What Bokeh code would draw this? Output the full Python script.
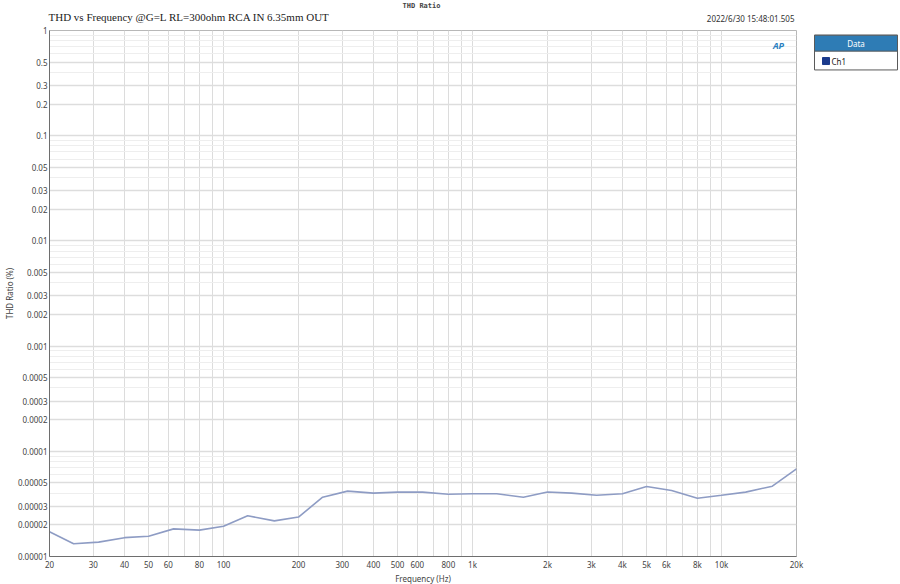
from bokeh.plotting import figure
from bokeh.layouts import row, column
from bokeh.models import FixedTicker, CustomJSTickFormatter, Label, Range1d
from bokeh.core.properties import value
from bokeh.embed import file_html
from bokeh.resources import INLINE

# ---- data ----
freqs = [20, 25, 31.5, 40, 50, 63, 80, 100, 125, 160, 200, 250, 315, 400, 500, 630,
         800, 1000, 1250, 1600, 2000, 2500, 3150, 4000, 5000, 6300, 8000, 10000,
         12500, 16000, 20000]
thd_ch1 = [1.72e-5, 1.32e-5, 1.37e-5, 1.51e-5, 1.56e-5, 1.83e-5, 1.78e-5, 1.94e-5,
           2.44e-5, 2.18e-5, 2.37e-5, 3.66e-5, 4.18e-5, 4.00e-5, 4.09e-5, 4.09e-5,
           3.90e-5, 3.95e-5, 3.95e-5, 3.66e-5, 4.10e-5, 4.00e-5, 3.82e-5, 3.95e-5,
           4.62e-5, 4.24e-5, 3.58e-5, 3.82e-5, 4.09e-5, 4.66e-5, 6.82e-5]

x_ticks = [20, 30, 40, 50, 60, 80, 100, 200, 300, 400, 500, 600, 800,
           1000, 2000, 3000, 4000, 5000, 6000, 8000, 10000, 20000]
x_minor = [70, 90, 700, 900, 7000, 9000]
y_ticks = [1e-5, 2e-5, 3e-5, 5e-5, 1e-4, 2e-4, 3e-4, 5e-4, 1e-3, 2e-3, 3e-3, 5e-3,
           1e-2, 2e-2, 3e-2, 5e-2, 0.1, 0.2, 0.3, 0.5, 1.0]
y_minor = [m * 10.0 ** e for e in range(-5, 0) for m in (4, 6, 7, 8, 9)]

title_text = "THD vs Frequency @G=L RL=300ohm RCA IN 6.35mm OUT"
top_text = "THD Ratio"
stamp_text = "2022/6/30 15:48:01.505"
x_label = "Frequency (Hz)"
y_label = "THD Ratio (%)"
legend_title = "Data"
series_name = "Ch1"

FONT = "Noto Sans"
HEAD_H = 26

# ---- header strip (title, caption, timestamp) ----
hd = figure(width=900, height=HEAD_H, x_range=Range1d(0, 900), y_range=Range1d(HEAD_H, 0),
            x_axis_type=None, y_axis_type=None, min_border=0,
            output_backend="svg", toolbar_location=None)
hd.outline_line_color = None
hd.xgrid.visible = False
hd.ygrid.visible = False
hd.text(x=[48], y=[16], text=[title_text], text_font=value("Liberation Serif"),
        text_font_size="11px", text_color="#222222", text_align="left",
        text_baseline="middle")
hd.text(x=[421], y=[5], text=[top_text], text_font=value("DejaVu Sans Mono"),
        text_font_size="7px", text_font_style="bold", text_color="#444444",
        text_align="center", text_baseline="middle")
hd.text(x=[794], y=[18], text=[stamp_text], text_font=value(FONT),
        text_font_size="8px", text_color="#333333", text_align="right",
        text_baseline="middle")

# ---- main chart ----
p = figure(x_axis_type="log", y_axis_type="log", title=None,
           frame_width=747, frame_height=526,
           min_border_left=48, min_border_right=10, min_border_top=4, min_border_bottom=28,
           x_range=Range1d(20, 20000), y_range=Range1d(1e-5, 1),
           output_backend="svg", toolbar_location=None)
p.outline_line_color = "#b8b8b8"
p.background_fill_color = "white"
p.border_fill_color = "white"

for ax in (p.xaxis, p.yaxis):
    ax.axis_line_color = "#6e6e6e"
    ax.major_tick_in = 0
    ax.major_tick_out = 0
    ax.minor_tick_in = 0
    ax.minor_tick_out = 0
    ax.major_label_text_font = FONT
    ax.major_label_text_font_size = "8px"
    ax.major_label_text_color = "#444444"
    ax.major_label_standoff = 2
    ax.axis_label_text_font = FONT
    ax.axis_label_text_font_size = "8px"
    ax.axis_label_text_font_style = "normal"
    ax.axis_label_text_color = "#444444"
    ax.axis_label_standoff = 0

p.xaxis.axis_label = x_label
p.yaxis.axis_label = y_label

p.xaxis.ticker = FixedTicker(ticks=x_ticks, minor_ticks=x_minor)
p.yaxis.ticker = FixedTicker(ticks=y_ticks, minor_ticks=y_minor)
p.xaxis.formatter = CustomJSTickFormatter(
    code="return tick >= 1000 ? String(Math.round(tick/1000)) + 'k' : String(Math.round(tick));")
p.yaxis.formatter = CustomJSTickFormatter(
    code="return String(Number(tick.toPrecision(6)));")

p.xgrid.grid_line_color = "#dcdcdc"
p.xgrid.grid_line_width = 1
p.xgrid.minor_grid_line_color = "#dcdcdc"
p.xgrid.minor_grid_line_width = 1
p.ygrid.grid_line_color = "#dddddd"
p.ygrid.grid_line_width = 1.5
p.ygrid.minor_grid_line_color = "#eeeeee"
p.ygrid.minor_grid_line_width = 1

p.line(freqs, thd_ch1, line_color="#8e9cc4", line_width=1.6)

p.add_layout(Label(x=729, y=511, x_units="screen", y_units="screen", text="AP",
                   text_font=FONT, text_font_size="9px", text_font_style="bold italic",
                   text_color="#2a7fc0", text_baseline="middle", text_align="center"))

# ---- legend panel ----
LG_H = 584 - HEAD_H
lg = figure(width=95, height=LG_H, x_range=Range1d(0, 95), y_range=Range1d(LG_H, 0),
            x_axis_type=None, y_axis_type=None, min_border=0,
            output_backend="svg", toolbar_location=None)
lg.outline_line_color = None
lg.xgrid.visible = False
lg.ygrid.visible = False
lg.quad(left=[8], right=[91], top=[5], bottom=[42], fill_color="white",
        line_color="#5a5a5a", line_width=1)
lg.quad(left=[8], right=[91], top=[5], bottom=[22], fill_color="#2e7cb5",
        line_color="#5a5a5a", line_width=1)
lg.text(x=[49.5], y=[13.5], text=[legend_title], text_font=value(FONT),
        text_font_size="8px", text_color="white", text_align="center",
        text_baseline="middle")
lg.scatter(x=[19.5], y=[32.5], marker="square", size=7, fill_color="#1b3a8c",
           line_color="#1b3a8c")
lg.text(x=[25], y=[32.5], text=[series_name], text_font=value(FONT),
        text_font_size="8px", text_color="#222222", text_align="left",
        text_baseline="middle")

layout = column(hd, row(p, lg, spacing=0), spacing=0)
open("out.html", "w").write(file_html(layout, INLINE))
